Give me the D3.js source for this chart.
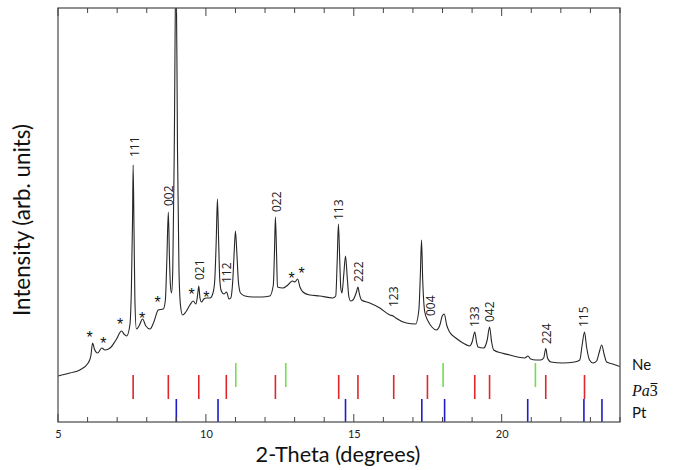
<!DOCTYPE html>
<html><head><meta charset="utf-8">
<script src="https://cdn.jsdelivr.net/npm/d3@7"></script>
<style>body{margin:0;background:#fff}svg{display:block}</style>
</head><body>
<svg id="c" width="675" height="470"></svg>
<script>
// ---- data ----
const xTicks = [5, 10, 15, 20];
// measured pattern: [2-theta (deg), intensity (arb.)]
const pattern = [
[5.00,46],[5.41,49],[5.74,52],[6.02,59],[6.11,66],[6.17,79],[6.23,73],[6.34,69],[6.48,74],[6.59,72],
[6.76,74],[6.96,82],[7.15,91],[7.23,88],[7.32,86],[7.43,97],[7.48,132],[7.52,202],[7.54,257],[7.57,192],
[7.60,122],[7.65,93],[7.74,96],[7.86,103],[7.97,96],[8.11,93],[8.24,100],[8.39,112],[8.56,113],[8.63,122],
[8.68,162],[8.73,210],[8.77,162],[8.80,137],[8.84,129],[8.88,152],[8.93,272],[8.99,470],[9.04,272],[9.09,152],
[9.14,117],[9.21,107],[9.32,110],[9.46,117],[9.57,121],[9.66,118],[9.72,127],[9.76,136],[9.80,124],[9.85,120],
[9.93,123],[10.02,124],[10.14,124],[10.24,129],[10.30,142],[10.35,182],[10.39,223],[10.43,182],[10.47,142],[10.52,131],
[10.61,128],[10.70,130],[10.78,123],[10.84,124],[10.91,142],[10.96,172],[11.00,191],[11.05,167],[11.10,140],[11.17,129],
[11.32,126],[11.59,125],[11.89,125],[12.16,126],[12.28,137],[12.32,172],[12.35,205],[12.39,167],[12.42,135],[12.60,134],
[12.77,137],[12.93,141],[13.01,140],[13.10,143],[13.18,135],[13.28,130],[13.51,127],[13.85,126],[14.29,124],[14.39,126],
[14.44,162],[14.48,198],[14.53,157],[14.56,134],[14.60,129],[14.66,147],[14.72,166],[14.78,144],[14.83,126],[14.89,121],
[14.97,122],[15.09,130],[15.14,135],[15.19,128],[15.26,122],[15.54,119],[15.88,114],[16.22,107],[16.33,106],[16.42,104],
[16.78,99],[17.09,98],[17.20,112],[17.25,147],[17.29,182],[17.33,142],[17.40,110],[17.51,101],[17.64,95],[17.79,92],
[17.91,97],[17.99,106],[18.06,108],[18.14,97],[18.24,90],[18.45,84],[18.69,79],[18.92,76],[19.00,80],[19.09,90],
[19.15,80],[19.20,75],[19.39,74],[19.51,82],[19.59,95],[19.66,80],[19.73,72],[20.00,69],[20.27,67],[20.54,65],
[20.78,64],[20.89,66],[20.98,63],[21.15,62],[21.32,62],[21.42,64],[21.49,73.5],[21.55,64],[21.66,60],[22.06,59],
[22.47,60],[22.64,62],[22.72,77],[22.80,90],[22.87,75],[22.97,62],[23.09,59],[23.21,61],[23.30,70],[23.38,77],
[23.47,67],[23.55,60],[23.75,58],[24.00,55.5]
];
// reflection labels: [hkl, 2-theta, intensity at label foot]
const hklLabels = [
["111",7.62,265],["002",8.75,216],["021",9.80,142],["112",10.72,139],["022",12.40,210],["113",14.50,202],
["222",15.19,140],["123",16.35,115],["004",17.60,106],["133",19.09,95],["042",19.59,100],["224",21.52,78],["115",22.79,95]
];
// impurity stars: [2-theta, intensity]
const stars = [[6.07,86],[6.53,80],[7.10,99],[7.84,105],[8.37,121],[9.52,129],[10.02,126],[12.90,145],[13.24,150]];
// reference reflection positions
const neLines = [11.01, 12.70, 18.02, 21.14];
const pa3Lines = [7.54, 8.73, 9.76, 10.69, 12.35, 14.49, 15.14, 16.35, 17.49, 19.09, 19.59, 21.49, 22.80];
const ptLines = [9.00, 10.41, 14.72, 17.30, 18.07, 20.88, 22.78, 23.39];

// ---- layout ----
const L = 58, R = 620, T = 8, B = 422;
const svg = d3.select("#c");
const x = d3.scaleLinear().domain([5, 24]).range([L, R]);
const y = d3.scaleLinear().domain([0, 414]).range([B, T]);

svg.append("defs").append("clipPath").attr("id","clip")
  .append("rect").attr("x",L).attr("y",T).attr("width",R-L).attr("height",B-T);

// curve
const line = d3.line().x(d=>x(d[0])).y(d=>y(d[1])).curve(d3.curveMonotoneX);
svg.append("path").datum(pattern).attr("d",line).attr("clip-path","url(#clip)")
  .attr("fill","none").attr("stroke","#262626").attr("stroke-width",1.1);

// sticks
function sticks(data, y0, y1, color){
  svg.append("g").selectAll("line").data(data).join("line")
    .attr("x1",d=>x(d)).attr("x2",d=>x(d)).attr("y1",y0).attr("y2",y1)
    .attr("stroke",color).attr("stroke-width",1.6);
}
sticks(neLines, 363, 387, "#6fe04a");
sticks(pa3Lines, 375, 399, "#e0262a");
sticks(ptLines, 399, 422, "#1c1cc8");

// frame
svg.append("rect").attr("x",L).attr("y",T).attr("width",R-L).attr("height",B-T)
  .attr("fill","none").attr("stroke","#555").attr("stroke-width",1.3);

// ticks (inward, top and bottom)
const minor = d3.range(5, 25, 1);
const tickG = svg.append("g").attr("stroke","#444").attr("stroke-width",1);
minor.forEach(v=>{
  const len = (v % 5 === 0) ? 8 : 5;
  tickG.append("line").attr("x1",x(v)).attr("x2",x(v)).attr("y1",B).attr("y2",B-len);
  tickG.append("line").attr("x1",x(v)).attr("x2",x(v)).attr("y1",T).attr("y2",T+len);
});
const axisG = svg.append("g").attr("transform",`translate(0,${B})`)
  .call(d3.axisBottom(x).tickValues(xTicks).tickSize(0).tickPadding(8).tickFormat(d3.format("d")));
axisG.select(".domain").remove();
axisG.selectAll("text").attr("font-family","Lato, 'Open Sans', sans-serif").attr("font-size",11).attr("fill","#222");

// axis titles, sized to reference extents
const tf = "Lato, 'Open Sans', sans-serif";
function fitText(sel, target){
  const w = sel.node().getComputedTextLength();
  sel.attr("font-size", 20*target/w);
}
const xt = svg.append("text").attr("x",338).attr("y",462).attr("text-anchor","middle")
  .attr("font-family",tf).attr("font-size",20).attr("fill","#111")
  .text("2-Theta (degrees)");
fitText(xt, 165);
const yt = svg.append("text").attr("transform","translate(30,220) rotate(-90)").attr("text-anchor","middle")
  .attr("font-family",tf).attr("font-size",20).attr("fill","#111")
  .text("Intensity (arb. units)");
fitText(yt, 192);

// hkl labels
svg.append("g").selectAll("text").data(hklLabels).join("text")
  .attr("transform",d=>`translate(${x(d[1])+4},${y(d[2])}) rotate(-90)`)
  .attr("font-family","'Open Sans', Lato, sans-serif").attr("font-size",12).attr("fill","#222")
  .text(d=>d[0]);

// stars
svg.append("g").selectAll("text").data(stars).join("text")
  .attr("x",d=>x(d[0])).attr("y",d=>y(d[1])+7).attr("text-anchor","middle")
  .attr("font-family","'Liberation Sans', sans-serif").attr("font-size",16).attr("fill","#111")
  .text("*");

// phase labels
svg.append("text").attr("x",632).attr("y",370).attr("font-family",tf).attr("font-size",15).attr("fill","#111").text("Ne");
svg.append("text").attr("x",632).attr("y",418).attr("font-family",tf).attr("font-size",15).attr("fill","#111").text("Pt");
const pa = svg.append("text").attr("x",632).attr("y",396).attr("font-family","'Liberation Serif', serif").attr("font-size",16).attr("fill","#111");
pa.append("tspan").attr("font-style","italic").text("Pa");
pa.append("tspan").text("3");
const wPa = pa.node().getSubStringLength(0,2);
const w3 = pa.node().getSubStringLength(2,1);
svg.append("line").attr("x1",632+wPa+0.8).attr("x2",632+wPa+w3-0.3)
  .attr("y1",383.5).attr("y2",383.5).attr("stroke","#111").attr("stroke-width",1);
</script>
</body></html>
